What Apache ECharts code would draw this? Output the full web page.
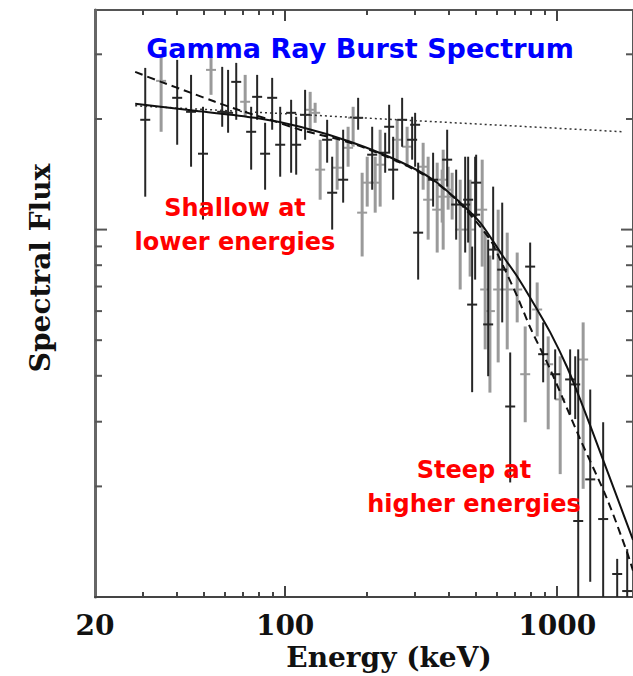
<!DOCTYPE html>
<html>
<head>
<meta charset="utf-8">
<title>Gamma Ray Burst Spectrum</title>
<script src="https://cdn.jsdelivr.net/npm/echarts@6/dist/echarts.min.js"></script>
<style>
  html, body { margin: 0; padding: 0; background: #fff; }
  #main { width: 633px; height: 676px; }
</style>
</head>
<body>
<div id="main"></div>
<script>
// fitted curves (energy keV, flux)
var solidE  = [28.1, 46.7, 77.6, 113.5, 173.4, 264.8, 349.9, 440, 521, 633, 713, 844, 943, 1088, 1215, 1439, 1634, 1900];
var solidF  = [2.20, 2.105, 2.015, 1.905, 1.734, 1.530, 1.367, 1.184, 1.045, 0.845, 0.745, 0.606, 0.525, 0.422, 0.345, 0.248, 0.193, 0.143];
var dashE   = [28.1, 35.0, 45.1, 55.3, 67.2, 88.1, 113.5, 173.4, 264.8, 349.9, 440, 567, 617, 713, 796, 943, 1215, 1527, 1809, 1900];
var dashF   = [2.687, 2.524, 2.356, 2.228, 2.119, 1.990, 1.870, 1.723, 1.521, 1.359, 1.177, 0.939, 0.829, 0.658, 0.5415, 0.4165, 0.269, 0.1846, 0.132, 0.118];
var dotE    = [28.1, 1750];
var dotF    = [2.173, 1.846];

// data points: [energy, flux, upper, lower]
var blackPts = [
  [30.6, 1.990, 2.755, 1.229], [40.1, 2.284, 2.897, 1.702], [45.1, 2.092, 2.637, 1.483],
  [49.9, 1.609, 2.159, 1.065], [58.7, 2.092, 2.773, 1.905], [61.7, 2.079, 2.721, 1.835],
  [66.1, 2.524, 2.843, 1.990], [75.0, 1.846, 2.159, 1.456], [78.9, 2.298, 2.637, 1.990],
  [84.4, 1.609, 1.953, 1.284], [89.6, 2.284, 2.588, 1.870], [95.9, 1.702, 2.159, 1.393],
  [105.2, 2.079, 2.256, 1.428], [109.8, 1.702, 2.028, 1.411], [118.4, 2.053, 2.401, 1.756],
  [142.7, 1.756, 1.990, 1.521], [148.9, 1.260, 1.579, 1.0], [163.4, 1.367, 1.870, 1.184],
  [185.5, 2.015, 2.284, 1.870], [208.9, 1.599, 1.905, 1.284], [233.2, 1.619, 1.835, 1.428],
  [241.2, 1.905, 2.187, 1.619], [249.5, 1.456, 1.789, 1.206], [269.2, 1.990, 2.284, 1.681],
  [293.0, 1.756, 2.028, 1.550], [300.5, 1.929, 2.079, 1.483], [308.3, 0.981, 1.521, 0.731],
  [349.9, 1.367, 1.619, 1.155], [394.1, 1.550, 1.870, 1.309], [425.3, 1.17, 1.456, 0.939],
  [459.0, 1.17, 1.579, 0.866], [470.7, 1.206, 1.579, 0.922], [486.9, 0.625, 0.899, 0.361],
  [499.4, 1.098, 1.579, 0.731], [503.7, 1.342, 1.599, 1.085], [557.6, 0.552, 0.939, 0.399],
  [581.7, 0.882, 1.309, 0.829], [628.0, 0.778, 1.184, 0.559], [671.9, 0.330, 0.463, 0.205],
  [795.6, 0.793, 0.922, 0.569], [888.2, 0.458, 0.559, 0.384], [983.2, 0.404, 0.472, 0.345],
  [1116, 0.391, 0.472, 0.314], [1165, 0.379, 0.452, 0.305], [1195, 0.161, 0.472, 0.1],
  [1323, 0.209, 0.367, 0.110], [1476, 0.163, 0.299, 0.1], [1662, 0.1155, 0.127, 0.1],
  [1809, 0.1038, 0.135, 0.1]
];
var greyPts = [
  [35.0, 2.540, 2.952, 1.846], [53.4, 2.721, 2.952, 2.327], [71.3, 2.228, 2.637, 2.028],
  [123.6, 2.119, 2.371, 1.835], [128.9, 2.079, 2.214, 1.953], [134.5, 1.456, 1.756, 1.206],
  [155.3, 1.474, 1.756, 1.284], [170.4, 1.670, 1.905, 1.483], [177.8, 2.015, 2.159, 1.681],
  [191.9, 1.112, 1.428, 0.845], [200.3, 1.342, 1.579, 1.155], [214.3, 1.342, 1.579, 1.112],
  [223.5, 1.502, 1.870, 1.155], [258.1, 1.756, 1.990, 1.521], [280.8, 1.681, 1.905, 1.483],
  [321.6, 1.483, 1.723, 1.284], [335.5, 1.206, 1.579, 0.939], [362.2, 1.133, 1.521, 0.866],
  [377.8, 1.229, 1.456, 1.045], [381.0, 1.367, 1.650, 0.882], [397.4, 1.284, 1.483, 1.133],
  [411.1, 1.229, 1.428, 1.065], [440.0, 1.0, 1.367, 0.687], [478.7, 1.0, 1.367, 0.745],
  [530.1, 1.133, 1.550, 0.793], [543.7, 0.687, 0.981, 0.472], [566.0, 0.600, 0.850, 0.360],
  [606.9, 0.687, 1.133, 0.435], [655.2, 0.687, 0.981, 0.472], [712.9, 0.687, 0.866, 0.559],
  [762.9, 0.404, 0.545, 0.299], [844.3, 0.606, 0.718, 0.512], [926.8, 0.430, 0.512, 0.286],
  [1026, 0.345, 0.452, 0.216], [1246, 0.443, 0.559, 0.197]
];

// ticks and tick labels
var xMinorTicks = [30, 40, 50, 60, 70, 80, 90, 200, 300, 400, 500, 600, 700, 800, 900];
var xMajorTicks = [100, 1000];
var yMinorTicks = [0.2, 0.3, 0.4, 0.5, 0.6, 0.7, 0.8, 0.9, 2, 3];
var yMajorTicks = [1];
var xLabelValues = [20, 100, 1000];
var xLabelTexts = ['20', '100', '1000'];

var X_MIN = 20, X_MAX = 1900, Y_MIN = 0.1, Y_MAX = 3.96;
var AXIS_FONT = 'bold 28px "DejaVu Serif"';

function zip(a, b) {
  return a.map(function (v, i) { return [v, b[i]]; });
}

var xLabelData = xLabelValues.map(function (v) { return [v, 1]; });
var yTickData = yMinorTicks.map(function (v) { return [100, v, 0]; })
  .concat(yMajorTicks.map(function (v) { return [100, v, 1]; }));

function renderYTick(params, api) {
  var y = api.coord([100, api.value(1)])[1];
  var cs = params.coordSys;
  var len = api.value(2) ? 12 : 7;
  var st = { fill: '#555' };
  return {
    type: 'group',
    children: [
      { type: 'rect', shape: { x: cs.x, y: y - 1, width: len, height: 2 }, style: st },
      { type: 'rect', shape: { x: cs.x + cs.width - len, y: y - 1, width: len, height: 2 }, style: st }
    ]
  };
}

function renderXLabel(params, api) {
  var x = api.coord([api.value(0), 1])[0];
  var cs = params.coordSys;
  return {
    type: 'text',
    style: {
      text: xLabelTexts[params.dataIndex],
      x: x, y: cs.y + cs.height + 14,
      font: AXIS_FONT, fill: '#111',
      textAlign: 'center', textVerticalAlign: 'top'
    }
  };
}

function errorBarRenderer(color, width) {
  return function (params, api) {
    var e = api.value(0);
    var p = api.coord([e, api.value(1)]);
    var top = api.coord([e, api.value(2)]);
    var bot = api.coord([e, api.value(3)]);
    var st = { stroke: color, lineWidth: width };
    return {
      type: 'group',
      children: [
        { type: 'line', shape: { x1: p[0], y1: top[1], x2: p[0], y2: bot[1] }, style: st },
        { type: 'line', shape: { x1: p[0] - 5, y1: p[1], x2: p[0] + 5, y2: p[1] }, style: { stroke: color, lineWidth: 2 } }
      ]
    };
  };
}

// hidden linear axes spanning log10 of the energy range, used only to draw the frame ticks
function tickAxis(position, values, len) {
  return {
    type: 'value', gridIndex: 0, position: position, offset: 0,
    min: Math.log10(X_MIN), max: Math.log10(X_MAX),
    axisLine: { show: false }, axisLabel: { show: false }, splitLine: { show: false },
    axisTick: {
      show: true, inside: true, length: len,
      customValues: values.map(Math.log10),
      lineStyle: { color: '#444', width: 2 }
    }
  };
}

var myChart = echarts.init(document.getElementById('main'), null, { renderer: 'svg' });

var option = {
  backgroundColor: '#fff',
  animation: false,
  grid: {
    left: 95, right: 0, top: 10, bottom: 79,
    show: true, borderColor: '#555', borderWidth: 2
  },
  xAxis: [
    {
      type: 'log', logBase: 10, min: X_MIN, max: X_MAX, position: 'bottom',
      axisLine: { show: true, lineStyle: { color: '#444', width: 2 } },
      axisTick: { show: false }, axisLabel: { show: false }, splitLine: { show: false }
    },
    tickAxis('bottom', xMinorTicks, 5),
    tickAxis('bottom', xMajorTicks, 11),
    tickAxis('top', xMinorTicks, 5),
    tickAxis('top', xMajorTicks, 11)
  ],
  yAxis: {
    type: 'log', logBase: 10, min: Y_MIN, max: Y_MAX,
    axisLine: { show: true, lineStyle: { color: '#666', width: 3 } },
    axisTick: { show: false }, axisLabel: { show: false }, splitLine: { show: false }
  },
  graphic: [
    {
      type: 'text', z: 100,
      style: {
        text: 'Gamma Ray Burst Spectrum', x: 360, y: 48,
        font: 'bold 27px "DejaVu Sans"', fill: '#0000ff',
        textAlign: 'center', textVerticalAlign: 'middle'
      }
    },
    {
      type: 'text', z: 100,
      style: {
        text: 'Shallow at\nlower energies', x: 235, y: 225,
        font: 'bold 24px "DejaVu Sans"', lineHeight: 34, fill: '#ff0000',
        textAlign: 'center', textVerticalAlign: 'middle'
      }
    },
    {
      type: 'text', z: 100,
      style: {
        text: 'Steep at\nhigher energies', x: 474, y: 487,
        font: 'bold 24px "DejaVu Sans"', lineHeight: 34, fill: '#ff0000',
        textAlign: 'center', textVerticalAlign: 'middle'
      }
    },
    {
      type: 'text',
      style: {
        text: 'Energy (keV)', x: 389, y: 657,
        font: AXIS_FONT, fill: '#111',
        textAlign: 'center', textVerticalAlign: 'middle'
      }
    },
    {
      type: 'text', x: 40, y: 268, rotation: Math.PI / 2,
      style: {
        text: 'Spectral Flux', x: 0, y: 0,
        font: AXIS_FONT, fill: '#111',
        textAlign: 'center', textVerticalAlign: 'middle'
      }
    }
  ],
  series: [
    { type: 'custom', name: 'yticks', data: yTickData, renderItem: renderYTick, encode: { x: 0, y: 1 }, silent: true, z: 6 },
    { type: 'custom', name: 'xlabels', data: xLabelData, renderItem: renderXLabel, encode: { x: 0, y: 1 }, silent: true, z: 6 },
    { type: 'custom', name: 'grey', data: greyPts, renderItem: errorBarRenderer('#9a9a9a', 3), encode: { x: 0, y: [1, 2, 3] }, clip: true, z: 2 },
    { type: 'custom', name: 'black', data: blackPts, renderItem: errorBarRenderer('#262626', 2), encode: { x: 0, y: [1, 2, 3] }, clip: true, z: 3 },
    {
      type: 'line', name: 'dotted', data: zip(dotE, dotF), showSymbol: false, clip: true, z: 4,
      lineStyle: { color: '#333', width: 1.5, type: [2, 3] }
    },
    {
      type: 'line', name: 'dashed', data: zip(dashE, dashF), showSymbol: false, smooth: 0.3, clip: true, z: 4,
      lineStyle: { color: '#111', width: 2, type: [8, 5] }
    },
    {
      type: 'line', name: 'band', data: zip(solidE, solidF), showSymbol: false, smooth: 0.3, clip: true, z: 4,
      lineStyle: { color: '#111', width: 2 }
    }
  ]
};

myChart.setOption(option);
</script>
</body>
</html>
